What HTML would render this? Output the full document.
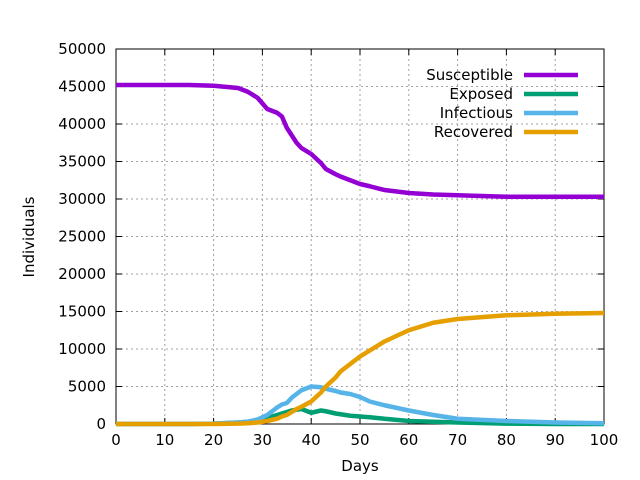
<!DOCTYPE html>
<html><head><meta charset="utf-8"><style>body{margin:0;background:#fff}svg{display:block;font-family:"DejaVu Sans","Liberation Sans",sans-serif}</style></head>
<body>
<svg id="chart" width="640" height="480" xmlns="http://www.w3.org/2000/svg"></svg>
<script>
const xTicks=[0,10,20,30,40,50,60,70,80,90,100];
const yTicks=[0,5000,10000,15000,20000,25000,30000,35000,40000,45000,50000];
const seriesNames=["Susceptible","Exposed","Infectious","Recovered"];
const seriesColors=["#9400d3","#009e73","#56b4e9","#e69f00"];
const days=[0,10,15,20,25,27,29,31,33,34,35,36,37,38,40,42,43,45,46,48,50,52,55,60,65,70,80,90,100];
const susceptible=[45200,45200,45200,45100,44800,44300,43500,42000,41500,41000,39500,38500,37500,36800,36000,34800,34000,33300,33000,32500,32000,31700,31200,30800,30600,30500,30300,30300,30300];
const exposed=[0,0,0,50,200,300,500,800,1200,1400,1600,1800,1900,2000,1500,1800,1700,1400,1300,1100,1000,900,700,400,300,200,50,0,0];
const infectious=[0,0,0,50,200,300,600,1200,2200,2600,2800,3500,4000,4500,5000,4900,4700,4400,4200,4000,3600,3000,2500,1800,1200,700,400,200,100];
const recovered=[0,0,0,0,50,100,200,400,700,1000,1200,1600,2000,2300,3000,4200,5000,6200,7000,8000,9000,9800,11000,12500,13500,14000,14500,14700,14800];
const L=116,R=604,T=49,B=424;
const xs=d=>L+(R-L)*d/100, ys=v=>B-(B-T)*v/50000;
const svg=document.getElementById('chart');const NS="http://www.w3.org/2000/svg";
function mk(t,a,txt){const e=document.createElementNS(NS,t);for(const k in a)e.setAttribute(k,a[k]);if(txt!==undefined)e.textContent=txt;svg.appendChild(e);return e;}
xTicks.forEach(t=>{const x=xs(t);
 if(t>0&&t<100){const g=mk('line',{x1:x,y1:T,x2:x,y2:B,stroke:'#a0a0a0','stroke-dasharray':'2,3'});
 
 }
 const tk=mk('line',{x1:x,y1:B,x2:x,y2:B-6,stroke:'#000'});
 const tk2=mk('line',{x1:x,y1:T,x2:x,y2:T+6,stroke:'#000'});
 const l=mk('text',{x:x,y:B+21,'text-anchor':'middle','font-size':15},t);
 
 });
yTicks.forEach(t=>{const y=ys(t);
 if(t>0&&t<50000){const g=mk('line',{x1:L,y1:y,x2:R,y2:y,stroke:'#a0a0a0','stroke-dasharray':'2,3'});
 
 }
 const tk=mk('line',{x1:L,y1:y,x2:L+6,y2:y,stroke:'#000'});
 const tk2=mk('line',{x1:R,y1:y,x2:R-6,y2:y,stroke:'#000'});
 const l=mk('text',{x:L-10,y:y+5,'text-anchor':'end','font-size':15},t);
 
 });
const fr=mk('rect',{x:L,y:T,width:R-L,height:B-T,fill:'none',stroke:'#000'});


const data=[susceptible,exposed,infectious,recovered];
data.forEach((arr,i)=>{const p=mk('polyline',{points:arr.map((v,j)=>xs(days[j])+','+ys(v)).join(' '),fill:'none',stroke:seriesColors[i],'stroke-width':4.5,'stroke-linejoin':'round'});
 
 
 const ly=75+i*19;
 const lt=mk('text',{x:513,y:ly+5,'text-anchor':'end','font-size':15},seriesNames[i]);
 
 
 const ll=mk('line',{x1:524,y1:ly,x2:578,y2:ly,stroke:seriesColors[i],'stroke-width':4.5});
 
 });
const xt=mk('text',{x:360,y:471,'text-anchor':'middle','font-size':15},'Days');


const yt=mk('text',{x:34,y:237,'text-anchor':'middle','font-size':15,transform:'rotate(-90 34 237)'},'Individuals');


</script>
</body></html>
